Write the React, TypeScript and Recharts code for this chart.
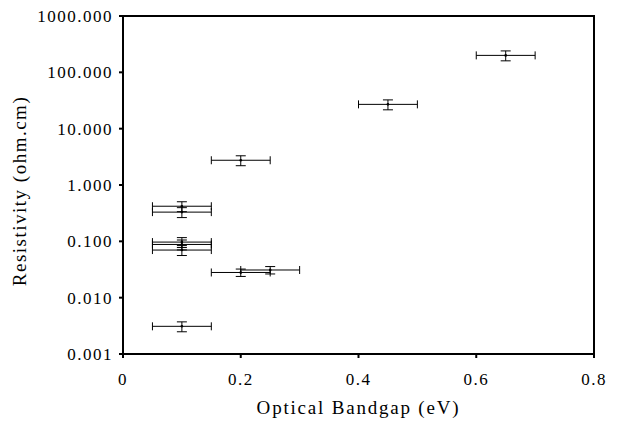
import { ScatterChart, Scatter, XAxis, YAxis, ErrorBar, ReferenceArea } from 'recharts';

// values
const bandgap = [0.1, 0.1, 0.1, 0.1, 0.1, 0.1, 0.2, 0.2, 0.25, 0.45, 0.65];
const resistivity = [0.0031, 0.07, 0.088, 0.097, 0.33, 0.42, 0.028, 2.75, 0.031, 27, 200];
const bandgapErr = [0.05, 0.05, 0.05, 0.05, 0.05, 0.05, 0.05, 0.05, 0.05, 0.05, 0.05];
const relErr = [0.2, 0.2, 0.2, 0.2, 0.2, 0.2, 0.15, 0.2, 0.15, 0.2, 0.2];

const xTicks = [0, 0.2, 0.4, 0.6, 0.8];
const yTicks = [0.001, 0.01, 0.1, 1, 10, 100, 1000];

const data = bandgap.map((x, i) => ({
    x,
    y: resistivity[i],
    xErr: bandgapErr[i],
    yErr: [resistivity[i] * relErr[i], resistivity[i] * relErr[i]],
}));

const font = '"Liberation Serif", "Times New Roman", serif';
const tickStyle = { fill: '#000', fontFamily: font, fontSize: 17, letterSpacing: 1.5 };

const Dot = (props: any) => <circle cx={props.cx} cy={props.cy} r={1.3} fill="#000" />;

export default function App() {
    return (
        <div style={{ position: 'absolute', left: 0, top: 0, background: '#fff' }}>
            <ScatterChart width={617} height={430} margin={{ top: 16, right: 23, bottom: 12, left: 0 }}>
                <XAxis
                    type="number"
                    dataKey="x"
                    domain={[0, 0.8]}
                    ticks={xTicks}
                    tickFormatter={(v: number) => String(v)}
                    stroke="#000"
                    strokeWidth={2}
                    tickSize={4}
                    tickMargin={15}
                    height={64}
                    tick={tickStyle}
                    label={{ value: 'Optical Bandgap (eV)', position: 'insideBottom', offset: 4, fill: '#000', fontFamily: font, fontSize: 19, letterSpacing: 1.8 }}
                />
                <YAxis
                    type="number"
                    dataKey="y"
                    scale="log"
                    domain={[0.001, 1000]}
                    ticks={yTicks}
                    allowDataOverflow
                    tickFormatter={(v: number) => v.toFixed(3)}
                    stroke="#000"
                    strokeWidth={2}
                    tickSize={4}
                    tickMargin={6}
                    width={123}
                    tick={tickStyle}
                    label={{ value: 'Resistivity (ohm.cm)', angle: -90, position: 'insideLeft', offset: 19, dy: 6, fill: '#000', fontFamily: font, fontSize: 19, letterSpacing: 1.5, style: { textAnchor: 'middle' } }}
                />
                <ReferenceArea x1={0} x2={0.8} y1={0.001} y2={1000} fill="none" stroke="#000" strokeWidth={2} />
                <Scatter data={data} shape={Dot} isAnimationActive={false}>
                    <ErrorBar dataKey="xErr" direction="x" width={4} stroke="#000" strokeWidth={1} isAnimationActive={false} />
                    <ErrorBar dataKey="yErr" direction="y" width={5} stroke="#000" strokeWidth={1} isAnimationActive={false} />
                </Scatter>
            </ScatterChart>
        </div>
    );
}
